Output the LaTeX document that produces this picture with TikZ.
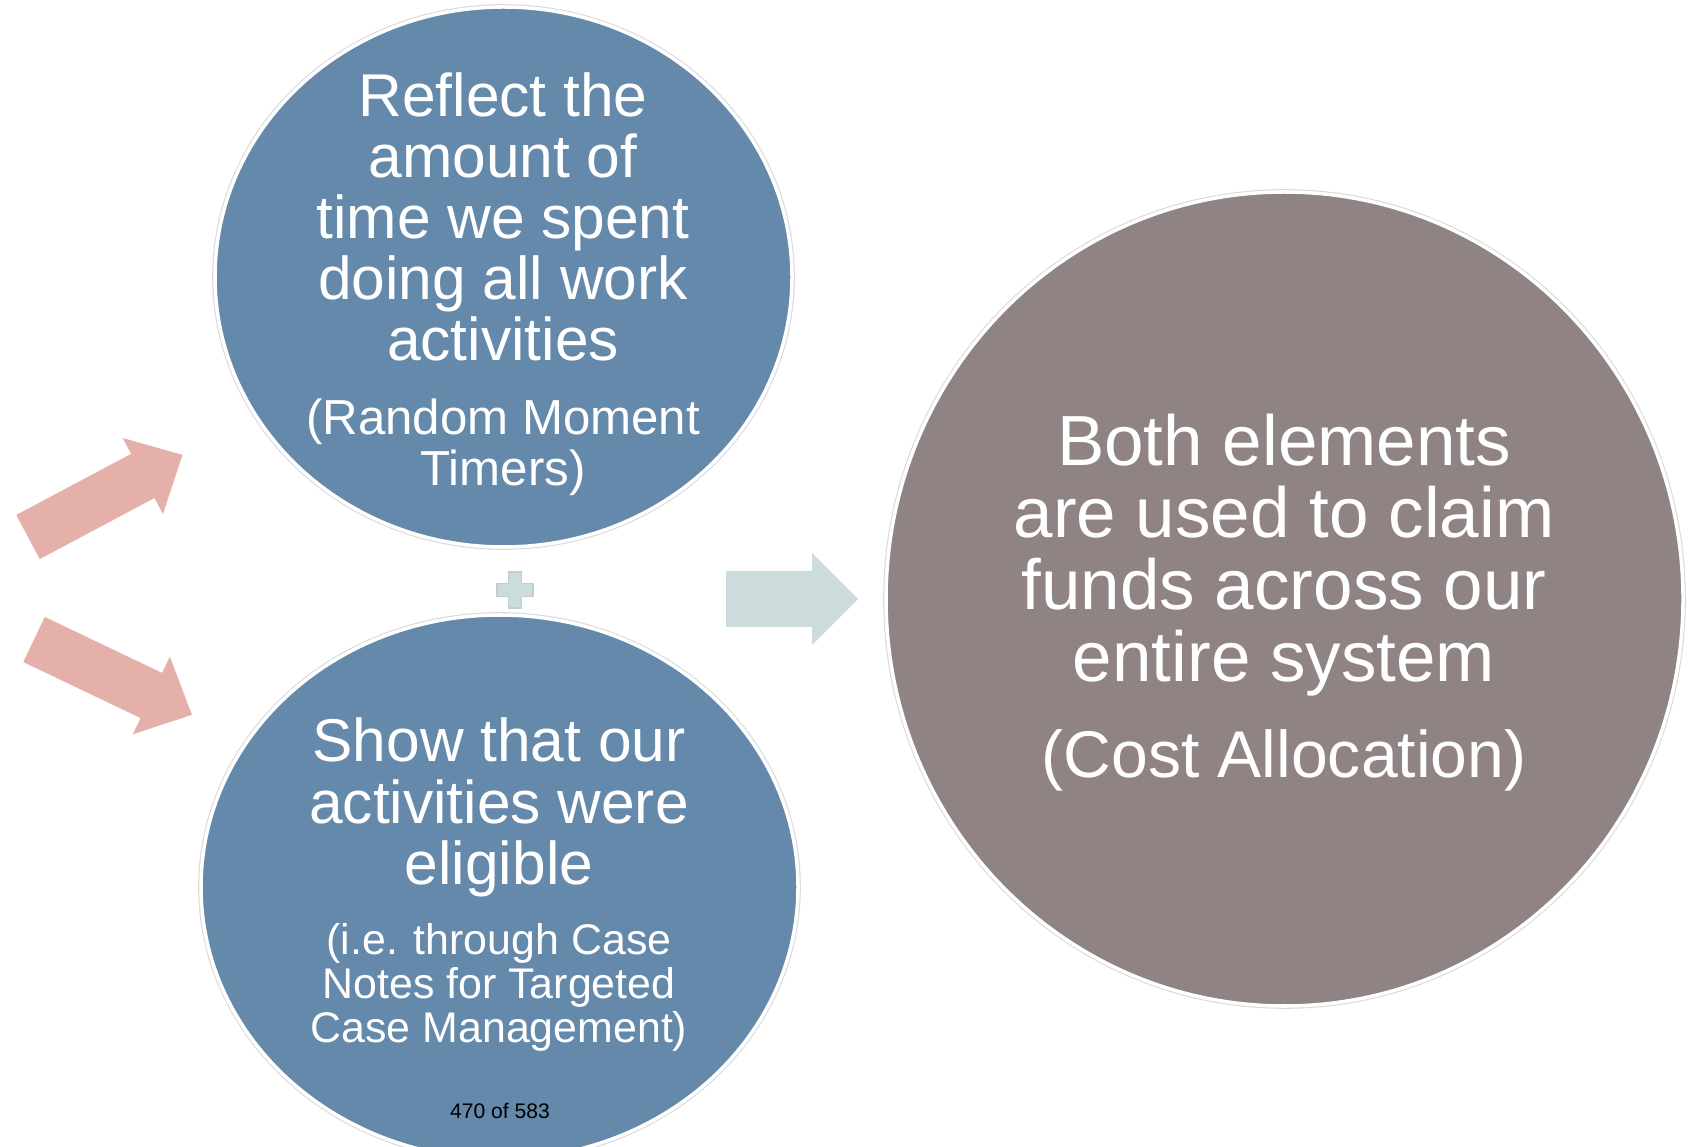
\documentclass[tikz,border=0pt]{standalone}
\usepackage{fontspec}
\setmainfont{Liberation Sans}
\usetikzlibrary{shapes.geometric}

\definecolor{bubbleblue}{RGB}{101,137,170}
\definecolor{bubblegray}{RGB}{143,131,131}
\definecolor{arrowpink}{RGB}{230,176,170}
\definecolor{arrowmint}{RGB}{204,220,220}

\begin{document}
\begin{tikzpicture}[
    bubble/.style={ellipse, inner sep=0pt, preaction={draw=gray!30, line width=1.6pt}, draw=white, line width=1pt},
    bubbletext/.style={text=white, align=center, inner sep=0pt}
  ]
      \def\shaftw{0.25}
      \def\headw{0.43}
      \useasboundingbox (0,0) rectangle (16.90,11.46);

      \node[bubble, fill=bubbleblue, minimum width=5.77cm, minimum height=5.40cm] (timebubble) at (5.035,8.69) {};
      \node[bubble, fill=bubbleblue, minimum width=5.97cm, minimum height=5.44cm] (eligbubble) at (4.995,2.59) {};
      \node[bubble, fill=bubblegray, minimum width=7.97cm, minimum height=8.14cm] (costbubble) at (12.845,5.47) {};

      \node[bubbletext, font=\fontsize{17.2}{17.4}\selectfont] (timetext) at (5.03,9.29)
        {Reflect the\\amount of\\time we spent\\doing all work\\activities};
      \node[bubbletext, font=\fontsize{14}{14.4}\selectfont] (timesub) at (5.03,6.99)
        {(Random Moment\\Timers)};
      \node[bubbletext, font=\fontsize{17.2}{17.4}\selectfont] (eligtext) at (4.99,3.385)
        {Show that our\\activities were\\eligible};
      \node[bubbletext, font=\fontsize{12.2}{12.5}\selectfont] (eligsub) at (4.99,1.59)
        {(i.e. through Case\\Notes for Targeted\\Case Management)};
      \node[inner sep=0pt, font=\fontsize{6}{7}\selectfont] (pagenum) at (5.00,0.35) {470 of 583};
      \node[bubbletext, font=\fontsize{20.2}{20.5}\selectfont] (costtext) at (12.84,5.905)
        {Both elements\\are used to claim\\funds across our\\entire system};
      \node[bubbletext, font=\fontsize{18.8}{19}\selectfont] (costsub) at (12.84,3.855)
        {(Cost Allocation)};

      % pink arrows on the left
      \foreach \x/\y/\ang in {0.28/6.09/28, 0.34/5.065/-25.5}
        \fill[arrowpink, shift={(\x,\y)}, rotate=\ang] (0,-\shaftw) -- (1.30,-\shaftw) -- (1.30,-\headw)
          -- (1.75,0) -- (1.30,\headw) -- (1.30,\shaftw) -- (0,\shaftw) -- cycle;

      % plus sign
      \draw[arrowmint!85!gray, fill=arrowmint, line width=0.3pt] (5.085,5.38) -- (5.215,5.38) -- (5.215,5.495)
        -- (5.33,5.495) -- (5.33,5.625) -- (5.215,5.625) -- (5.215,5.74) -- (5.085,5.74) -- (5.085,5.625)
        -- (4.97,5.625) -- (4.97,5.495) -- (5.085,5.495) -- cycle;

      % arrow to the result
      \fill[arrowmint] (7.26,5.19) -- (8.12,5.19) -- (8.12,5.01) -- (8.58,5.47) -- (8.12,5.93)
        -- (8.12,5.75) -- (7.26,5.75) -- cycle;
\end{tikzpicture}
\end{document}
